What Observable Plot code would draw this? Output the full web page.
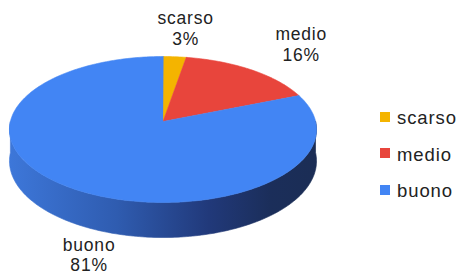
<!DOCTYPE html>
<html><head><meta charset="utf-8">
<script src="https://cdn.jsdelivr.net/npm/d3@7"></script>
<script src="https://cdn.jsdelivr.net/npm/@observablehq/plot@0.6"></script>
<style>
body{margin:0;background:#fff;font-family:"Liberation Sans",Arial,sans-serif;}
#wrap{position:relative;width:462px;height:279px;}
#legend{position:absolute;left:380px;top:99px;}
.item{display:flex;align-items:center;height:36.5px;font-size:18.5px;letter-spacing:0.9px;color:#222;padding-top:2px;box-sizing:border-box;}
.sw{width:10px;height:10px;margin-right:7px;margin-top:-3px;}
</style></head><body><div id="wrap"><div id="legend"></div></div>
<script>
// ---- data ----
const categories = ["scarso", "medio", "buono"];
const values = [2.7, 16.2, 81.1];
const colors = ["#f4b400", "#e8453c", "#4285f4"];

// ---- layout (pie view, perspective) ----
const view = {cx: 162.5, B: 152.6, y0: 121, A: 72.1, k: -0.1096, depth: 31.2};
const labelNudge = {scarso: [11, -29], medio: [50, -26], buono: [20, 33]}; // px

const proj = (t, z = 0) => {
  const u = Math.sin(t), v = -Math.cos(t);
  const s = 1 / (1 + view.k * v);
  return {x: u * s, y: (v + z * view.depth / view.A) * s};
};

const total = d3.sum(values);
let acc = 0;
const slices = categories.map((c, i) => {
  const a0 = acc / total * 2 * Math.PI;
  acc += values[i];
  const a1 = acc / total * 2 * Math.PI;
  return {c, a0, a1, share: values[i] / total};
});

// top-face slice outlines
const slicePts = [];
for (const s of slices) {
  slicePts.push({c: s.c, x: 0, y: 0});
  const n = Math.max(2, Math.ceil((s.a1 - s.a0) / (Math.PI / 180)));
  for (let j = 0; j <= n; j++) {
    const p = proj(s.a0 + (s.a1 - s.a0) * j / n);
    slicePts.push({c: s.c, x: p.x, y: p.y});
  }
}

// front side wall
const side = [];
for (let d = 90; d <= 270; d++) side.push(proj(d * Math.PI / 180, 0));
for (let d = 270; d >= 90; d--) side.push(proj(d * Math.PI / 180, 1));

// labels
const labels = slices.map(s => {
  const m = (s.a0 + s.a1) / 2;
  const p = proj(m, Math.cos(m) < 0 ? 1 : 0);
  const [nx, ny] = labelNudge[s.c];
  return {x: p.x + nx / view.B, y: p.y + ny / view.A, text: `${s.c}\n${Math.round(s.share * 100)}%`};
});

const chart = Plot.plot({
  width: 462, height: 279, margin: 0,
  x: {domain: [-1, 1], range: [view.cx - view.B, view.cx + view.B], axis: null},
  y: {domain: [0, 1], range: [view.y0, view.y0 + view.A], axis: null},
  color: {domain: categories, range: colors},
  style: {fontFamily: '"Liberation Sans", Arial, sans-serif', background: "white"},
  marks: [
    Plot.line(side, {x: "x", y: "y", fill: "url(#sideGrad)", stroke: "url(#sideGrad)", strokeWidth: 0.6, curve: "linear-closed"}),
    Plot.line(slicePts, {x: "x", y: "y", z: "c", fill: "c", stroke: "c", strokeWidth: 0.6, curve: "linear-closed"}),
    Plot.text(labels, {x: "x", y: "y", text: "text", fontSize: 17.5, lineHeight: 1.17, fill: "#222", lineAnchor: "middle"})
  ]
});
chart.querySelectorAll("text").forEach(t => t.style.letterSpacing = "0.8px");
const ns = "http://www.w3.org/2000/svg";
const defs = document.createElementNS(ns, "defs");
defs.innerHTML = `<linearGradient id="sideGrad" x1="0" x2="1" y1="0" y2="0">
<stop offset="0" stop-color="#3d77d9"/><stop offset="0.35" stop-color="#2f5cb0"/>
<stop offset="0.65" stop-color="#21397a"/><stop offset="0.85" stop-color="#1b2e5a"/>
<stop offset="1" stop-color="#1b2d55"/></linearGradient>`;
chart.insertBefore(defs, chart.firstChild);
const wrap = document.getElementById("wrap");
wrap.insertBefore(chart, wrap.firstChild);

const legend = document.getElementById("legend");
categories.forEach((c, i) => {
  const it = document.createElement("div");
  it.className = "item";
  const sw = document.createElement("div");
  sw.className = "sw"; sw.style.background = colors[i];
  const tx = document.createElement("span"); tx.textContent = c;
  it.appendChild(sw); it.appendChild(tx);
  legend.appendChild(it);
});
</script></body></html>
